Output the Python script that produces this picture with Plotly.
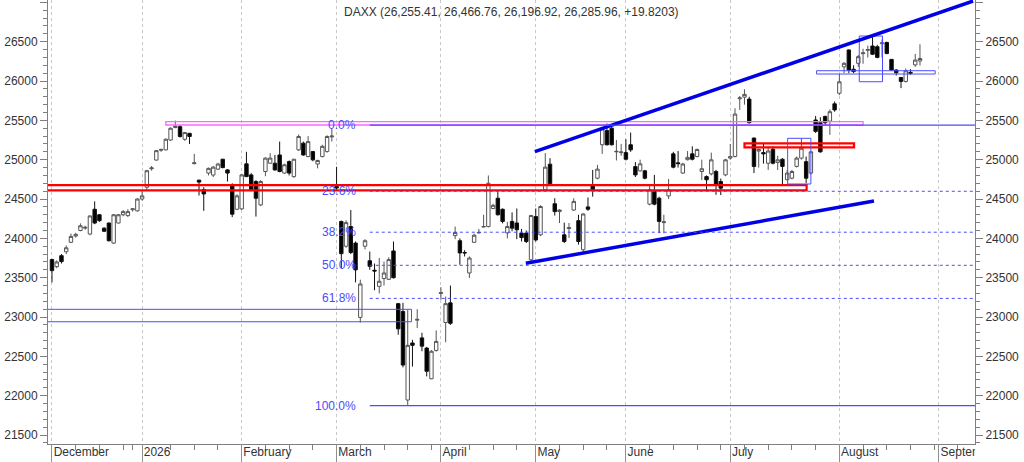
import pandas as pd
import plotly.graph_objects as go

FONT = "Liberation Sans, Arial, sans-serif"

# daily OHLC, one entry per trading day from 1 Dec 2025
opens = [23730, 23640, 23780, 23830, 23950, 24030, 24100, 24130, 24055, 24370,
         24300, 24130, 24195, 23940, 24195, 24300, 24290, 24365, 24350, 24500,
         24650, 24885, 24995, 25120, 25125, 25250, 25410, 25420, 25260, 25335,
         24950, 24740, 24620, 24830, 24805, 24880, 25006, 24870, 24668, 24370,
         24375, 24947, 24807, 24722, 24425, 24850, 24955, 24955, 25060, 24830,
         24976, 24785, 25125, 25210, 25040, 25103, 24945, 25040, 25103, 25290,
         24660, 24215, 23900, 24150, 23940, 22995, 23900, 23715, 23595, 23390,
         23490, 23480, 23840, 23170, 23070, 21945, 22670, 22960, 22735, 22605,
         22215, 22575, 23300, 22930, 23180, 24035, 23970, 23820, 23560, 23950,
         24070, 24145, 24150, 24380, 24510, 24370, 24070, 24215, 24195, 24067,
         24067, 23728, 24277, 24045, 24617, 24943, 24440, 24340, 24045, 24125,
         24360, 24225, 23855, 24400, 24668, 24765, 25190, 25370, 25400, 25100,
         25090, 25090, 25190, 24912, 24858, 24858, 24435, 24605, 24510, 24200,
         24540, 25074, 24960, 24830, 25000, 25074, 25040, 24850, 24785, 24820,
         24850, 24722, 24807, 25020, 25040, 25775, 25795, 25770, 25275, 25110,
         25090, 24955, 25133, 24965, 25006, 24745, 24765, 24915, 25020, 24975,
         24830, 25505, 25470, 25550, 25490, 25710, 25845, 26180, 26395, 26150,
         26225, 26348, 26390, 26445, 26436, 26475, 26490, 26275, 26140, 26045,
         25995, 26110, 26205, 26255.41]
highs = [23740, 23720, 23800, 23910, 24060, 24070, 24190, 24160, 24290, 24470,
         24310, 24140, 24200, 24310, 24310, 24360, 24370, 24380, 24510, 24600,
         24870, 24920, 25120, 25140, 25270, 25410, 25497, 25440, 25350, 25340,
         25074, 24745, 24650, 24900, 24920, 24960, 25010, 24880, 24700, 24560,
         24820, 25100, 24830, 24740, 24740, 25030, 25083, 25060, 25230, 24950,
         24990, 25010, 25320, 25230, 25300, 25110, 25000, 25190, 25310, 25400,
         24910, 24225, 24230, 24360, 23960, 23475, 23990, 23833, 23680, 23750,
         23706, 23760, 23960, 23180, 23180, 23090, 22710, 23100, 22800, 22620,
         22580, 22830, 23380, 23260, 23400, 24150, 24000, 23850, 23770, 24060,
         24120, 24300, 24800, 24440, 24600, 24380, 24210, 24330, 24380, 24120,
         24100, 24300, 24380, 24420, 25083, 25020, 24510, 24370, 24200, 24195,
         24510, 24300, 24320, 24520, 24870, 24934, 25410, 25460, 25420, 25250,
         25200, 25260, 25345, 24970, 25000, 24870, 24680, 24807, 24530, 24300,
         24755, 25100, 25110, 24960, 25110, 25170, 25140, 25000, 24800, 25090,
         24870, 24760, 25010, 25200, 25654, 25810, 25895, 25800, 25280, 25140,
         25200, 25170, 25170, 25050, 25020, 24870, 24870, 25040, 25273, 25040,
         25110, 25556, 25540, 25560, 25640, 25740, 26090, 26240, 26400, 26200,
         26330, 26410, 26450, 26570, 26460, 26530, 26500, 26280, 26150, 26050,
         26160, 26150, 26344, 26466.76]
lows = [23440, 23620, 23680, 23800, 23940, 24010, 24090, 24110, 24040, 24180,
        24210, 24080, 23960, 23930, 24190, 24280, 24270, 24340, 24340, 24480,
        24620, 24860, 24990, 25100, 25120, 25240, 25400, 25280, 25240, 25200,
        24940, 24545, 24350, 24800, 24780, 24870, 24890, 24722, 24270, 24360,
        24360, 24780, 24600, 24277, 24410, 24790, 24950, 24860, 24840, 24820,
        24800, 24770, 25110, 25050, 25030, 24980, 24890, 25030, 25090, 25230,
        24617, 23620, 23880, 23800, 23440, 22930, 23860, 23600, 23340, 23300,
        23400, 23470, 23490, 22775, 22360, 21880, 22370, 22860, 22565, 22245,
        22210, 22560, 23220, 22680, 22900, 23990, 23665, 23770, 23495, 23940,
        24060, 24140, 24140, 24370, 24290, 24190, 24000, 24090, 23990, 23960,
        23940, 23690, 23960, 24030, 24600, 24680, 24290, 24195, 23940, 24005,
        24350, 23920, 23800, 24350, 24530, 24750, 25074, 25180, 25180, 24990,
        25050, 24990, 25100, 24780, 24850, 24750, 24420, 24420, 24067, 24065,
        24500, 24890, 24900, 24820, 24990, 24990, 25030, 24740, 24610, 24800,
        24553, 24550, 24790, 25000, 25030, 25633, 25700, 25460, 24830, 24900,
        24950, 24870, 24940, 24870, 24680, 24740, 24750, 24900, 25000, 24702,
        24810, 25340, 25090, 25440, 25315, 25610, 25820, 26100, 26100, 26100,
        26180, 26220, 26300, 26330, 26290, 26300, 26340, 26130, 26070, 25910,
        25980, 26080, 26180, 26196.92]
closes = [23590, 23700, 23705, 23880, 24025, 24050, 24160, 24140, 24285, 24195,
          24225, 24090, 23970, 24300, 24300, 24340, 24340, 24375, 24500, 24540,
          24860, 24895, 25115, 25130, 25260, 25400, 25425, 25295, 25345, 25295,
          24960, 24715, 24565, 24890, 24905, 24945, 24900, 24830, 24307, 24540,
          24807, 24785, 24617, 24510, 24722, 25020, 25020, 24870, 24850, 24935,
          24830, 25006, 25295, 25060, 25230, 24998, 24990, 25170, 25295, 25300,
          24640, 23805, 24200, 23820, 23600, 23420, 23970, 23645, 23585, 23455,
          23560, 23730, 23500, 22850, 22390, 22640, 22640, 22970, 22630, 22310,
          22565, 22690, 23310, 23170, 22920, 24075, 23815, 23815, 23750, 24040,
          24075, 24150, 24700, 24420, 24300, 24215, 24150, 24130, 24110, 24010,
          23960, 24290, 23980, 24405, 24905, 24693, 24340, 24360, 23960, 24135,
          24470, 23960, 24310, 24370, 24617, 24880, 25390, 25190, 25190, 25106,
          25098, 25006, 25125, 24807, 24947, 24765, 24617, 24435, 24215, 24210,
          24617, 24905, 24950, 24945, 25030, 25006, 25130, 24885, 24745, 24998,
          24680, 24638, 24998, 25040, 25580, 25785, 25830, 25470, 24915, 25130,
          25075, 25110, 24955, 24998, 24915, 24830, 24850, 25020, 25146, 24765,
          25100, 25360, 25100, 25470, 25610, 25633, 25990, 26225, 26140, 26120,
          26310, 26358, 26400, 26340, 26300, 26485, 26350, 26140, 26105, 25995,
          26130, 26100, 26266.14, 26285.96]

holidays = ["2025-12-24", "2025-12-25", "2025-12-26", "2025-12-31", "2026-01-01",
            "2026-04-03", "2026-04-06", "2026-05-01", "2026-05-25"]
month_names = {12: "December", 1: "2026", 2: "February", 3: "March", 4: "April",
               5: "May", 6: "June", 7: "July", 8: "August", 9: "September"}

fib_high = 25440
fib_low = 21875
fib_levels = [0.0, 23.6, 38.2, 50.0, 61.8, 100.0]

# trading calendar -> month boundaries and weekly ticks
days = pd.bdate_range("2025-12-01", "2026-09-30")
days = days[~days.isin(pd.to_datetime(holidays))]
month_starts, week_ticks = [], []
for i, d in enumerate(days):
    if i == 0 or d.month != days[i - 1].month:
        month_starts.append(i)
    elif d.isocalendar().week != days[i - 1].isocalendar().week:
        if i - month_starts[-1] > 2:
            week_ticks.append(i)
month_starts = [m for m in month_starts if days[m].month in month_names][:10]
week_ticks = [w for w in week_ticks if w < 195]

idx = list(range(len(opens)))
XR = [-0.84, 194.6]
YR = [21386, 27030]
AX = "#808080"
TXT = "#333333"
BLUE = "#4b4bff"

fig = go.Figure()
fig.add_trace(go.Candlestick(
    x=idx, open=opens, high=highs, low=lows, close=closes,
    increasing=dict(line=dict(color="#555555", width=1), fillcolor="white"),
    decreasing=dict(line=dict(color="#111111", width=1), fillcolor="black"),
    whiskerwidth=0, showlegend=False, xaxis="x", yaxis="y"))
# keeps the right-hand price axis alive
fig.add_trace(go.Scatter(x=idx, y=closes, mode="lines", line=dict(width=0),
                         opacity=0, hoverinfo="skip", showlegend=False,
                         xaxis="x", yaxis="y2"))
# month names in the strip under the chart (clipped at the frame)
fig.add_trace(go.Scatter(
    x=[m + 0.35 for m in month_starts], y=[0.5] * len(month_starts),
    text=[month_names[days[m].month] for m in month_starts],
    mode="text", textposition="middle right",
    textfont=dict(family=FONT, size=12, color=TXT),
    hoverinfo="skip", showlegend=False, xaxis="x2", yaxis="y3"))

shapes = []
def rect(x0, x1, y0, y1, color, width):
    shapes.append(dict(type="rect", xref="x", yref="y", x0=x0, x1=x1, y0=y0, y1=y1,
                       line=dict(color=color, width=width), layer="above"))
def seg(x0, x1, y0, y1, color, width, dash="solid"):
    shapes.append(dict(type="line", xref="x", yref="y", x0=x0, x1=x1, y0=y0, y1=y1,
                       line=dict(color=color, width=width, dash=dash), layer="above"))

rect(-3, 159.1, 24610, 24677, "#ff0000", 2.2)
rect(24.0, 171.0, 25441, 25483, "#ff66ff", 1.3)
rect(-3, 75.8, 22940, 23098, BLUE, 1)
rect(146.0, 169.1, 25157, 25208, "#ff0000", 2.2)
rect(155.1, 160.0, 24691, 25272, BLUE, 1)
rect(170.2, 175.1, 25991, 26572, BLUE, 1)
rect(161.2, 186.2, 26089, 26131, BLUE, 1)

seg(101.8, 194.2, 25102, 27017, "#0000e6", 3.5)
seg(99.9, 173.3, 23683, 24475, "#0000e6", 3.5)

annotations = [dict(text="DAXX (26,255.41, 26,466.76, 26,196.92, 26,285.96, +19.8203)",
                    xref="paper", yref="paper", x=0.5, y=1 - 12 / 462,
                    xanchor="center", yanchor="middle", showarrow=False,
                    font=dict(family=FONT, size=12, color=TXT))]
for lv in fib_levels:
    price = fib_high - (fib_high - fib_low) * lv / 100
    solid = lv in (0.0, 100.0)
    seg(67.0, 200, price, price, BLUE, 1.2 if solid else 1, "solid" if solid else "dot")
    annotations.append(dict(text=f"{lv:.1f}%", xref="x", yref="y", x=64.6, y=price,
                            xanchor="right", yanchor="middle", showarrow=False,
                            font=dict(family=FONT, size=12, color=BLUE)))

yax = dict(range=YR, tick0=21500, dtick=500, tickformat="d", ticks="outside",
           ticklen=7, tickcolor=AX, showline=True, linecolor=AX, linewidth=1,
           showgrid=False, zeroline=False,
           tickfont=dict(family=FONT, size=12, color=TXT),
           minor=dict(dtick=100, ticks="outside", ticklen=4, tickcolor=AX))

fig.update_layout(
    width=1024, height=462,
    margin=dict(l=48, r=49, t=0, b=0),
    paper_bgcolor="white", plot_bgcolor="white",
    boxgap=0.2, boxgroupgap=0.1,
    xaxis=dict(domain=[0, 1], range=XR, anchor="y", tickvals=month_starts,
               showticklabels=False, ticks="", showgrid=True, gridcolor="#c8c8c8",
               griddash="dot", gridwidth=1, showline=True, linecolor=AX,
               zeroline=False, rangeslider=dict(visible=False),
               minor=dict(tickvals=week_ticks, ticks="outside", ticklen=5,
                          tickcolor=AX, showgrid=False)),
    yaxis=dict(domain=[18 / 462, 1], side="left", anchor="x", **yax),
    yaxis2=dict(overlaying="y", side="right", anchor="x", **yax),
    xaxis2=dict(domain=[0, 1], range=XR, anchor="y3", tickvals=month_starts,
                showticklabels=False, ticks="", showgrid=True, gridcolor="#909090",
                gridwidth=1, showline=False, zeroline=False),
    yaxis3=dict(domain=[0, 18 / 462], range=[0, 1], visible=False),
    shapes=shapes, annotations=annotations,
    showlegend=False, hovermode=False,
)

# the page's default body margin would push the 1024x462 figure off the window
fig.write_html("out.html", config={"displayModeBar": False},
               post_script="document.body.style.margin='0';")
